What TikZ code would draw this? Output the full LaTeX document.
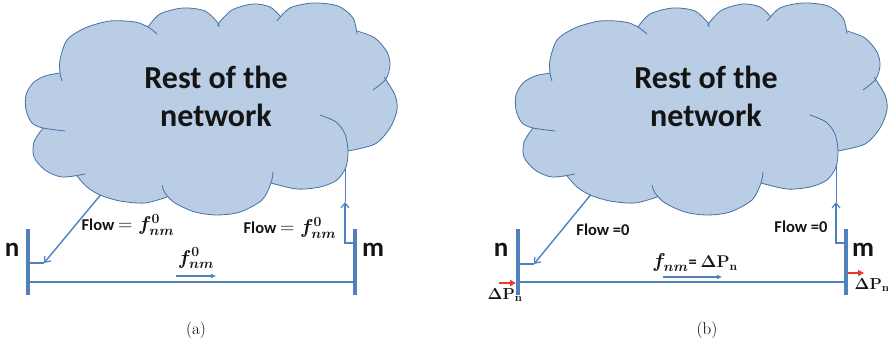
\documentclass[tikz,border=0pt]{standalone}
\usepackage{fix-cm}
\usepackage[no-math]{fontspec}
\usepackage{bm}
\newfontfamily\carl{Carlito}
\usetikzlibrary{arrows.meta}
\definecolor{cloudfill}{HTML}{B9CDE5}
\definecolor{cloudline}{HTML}{4470A6}
\definecolor{busblue}{HTML}{4F81BD}
\definecolor{redarrow}{HTML}{E53A2C}
\definecolor{txt}{HTML}{141414}
\newcommand\mathbig{\fontsize{20}{22}\selectfont}
\newcommand\mathmid{\fontsize{17}{20}\selectfont}
\begin{document}
\begin{tikzpicture}[x=1pt,y=-1pt,
  puff/.style={draw=cloudline, line width=0.8pt},
  busbar/.style={busblue, line width=4pt},
  busline/.style={busblue, line width=2.4pt},
  conn/.style={busblue, line width=1.4pt},
  thinconn/.style={busblue, line width=0.9pt},
  tipV/.style={-{Straight Barb[length=5pt,width=8pt,line width=1.2pt]}},
  flowarrow/.style={busblue, line width=1.5pt, -{Triangle[length=5pt,width=4pt]}},
  redarr/.style={redarrow, line width=1.6pt, -{Triangle[length=6pt,width=6pt]}},
  cloudtext/.style={font=\carl\bfseries\fontsize{32}{38}\selectfont, text=txt, inner sep=0pt, anchor=base},
  buslabel/.style={font=\carl\bfseries\fontsize{27}{30}\selectfont, text=txt, inner sep=0pt, anchor=base},
  flowlabel/.style={font=\carl\bfseries\fontsize{16.5}{20}\selectfont, text=txt, inner sep=0pt, anchor=base},
  dplabel/.style={font=\fontsize{16}{18}\selectfont, text=txt, inner sep=0pt, anchor=base},
  caption/.style={font=\fontsize{17}{20}\selectfont, inner sep=0pt, anchor=base}
]
\useasboundingbox (0,0) rectangle (888,347);

% ---------- coordinates, panel (a)
\coordinate (na-top) at (28,229);  \coordinate (na-bot) at (28,295);
\coordinate (ma-top) at (355,229); \coordinate (ma-bot) at (355,295);
\coordinate (na-line) at (28,282); \coordinate (ma-line) at (355,282);
\coordinate (na-stub) at (28,263); \coordinate (na-tip) at (44,263);
\coordinate (ca-n) at (103,192);
\coordinate (ma-stub) at (355,243); \coordinate (ma-corner) at (345,243);
\coordinate (ma-tip) at (345,202);  \coordinate (ca-m) at (345,156);
\coordinate (fa-s) at (176,276); \coordinate (fa-e) at (216,276);

% ---------- coordinates, panel (b)
\coordinate (nb-top) at (518,229);  \coordinate (nb-bot) at (518,295);
\coordinate (mb-top) at (846,229);  \coordinate (mb-bot) at (846,295);
\coordinate (nb-line) at (518,282); \coordinate (mb-line) at (846,282);
\coordinate (nb-stub) at (518,264); \coordinate (nb-tip) at (534,264);
\coordinate (cb-n) at (593,192);
\coordinate (mb-stub) at (846,243); \coordinate (mb-corner) at (836,243);
\coordinate (mb-tip) at (836,202);  \coordinate (cb-m) at (836,156);
\coordinate (fb-s) at (663,277); \coordinate (fb-e) at (722,277);
\coordinate (rn-s) at (499,283); \coordinate (rn-e) at (516,283);
\coordinate (rm-s) at (848,273); \coordinate (rm-e) at (864,273);

% ---------- connectors from the cloud (drawn first, the cloud covers their ends)
\draw[conn, tipV] (ca-n) -- (na-tip);
\draw[conn] (na-stub) -- (na-tip);
\draw[conn, tipV] (ma-stub) -- (ma-corner) -- (ma-tip);
\draw[thinconn] (ma-tip) -- (ca-m);

\draw[conn, tipV] (cb-n) -- (nb-tip);
\draw[conn] (nb-stub) -- (nb-tip);
\draw[conn, tipV] (mb-stub) -- (mb-corner) -- (mb-tip);
\draw[thinconn] (mb-tip) -- (cb-m);

% ---------- clouds
\foreach \dx in {0,490}{
\begin{scope}[xshift=\dx pt]
\fill[cloudfill]
  plot[smooth] coordinates {(60,73) (60,60) (67,40) (85,28) (110,21) (135,22) (148,27)}
  -- plot[smooth] coordinates {(148,27) (160,14) (183,8) (205,11) (218,23)}
  -- plot[smooth] coordinates {(218,23) (232,10) (253,4) (270,7) (281,17)}
  -- plot[smooth] coordinates {(280,17) (290,8) (313,3) (338,6) (353,18) (357,32)}
  -- plot[smooth] coordinates {(357,32) (375,38) (387,52) (390,65) (386,79)}
  -- plot[smooth] coordinates {(386,79) (395,95) (397,110) (390,128) (375,144) (348,151)}
  -- plot[smooth] coordinates {(348,151) (346,167) (337,180) (320,187) (297,189) (271,183)}
  -- plot[smooth] coordinates {(271,183) (262,200) (240,212) (217,215) (195,212) (175,203) (167,197)}
  -- plot[smooth] coordinates {(167,197) (145,203) (120,201) (100,195) (87,187) (77,176)}
  -- plot[smooth] coordinates {(77,176) (62,177) (45,170) (34,157) (34,142) (43,128)}
  -- plot[smooth] coordinates {(43,128) (32,123) (26,110) (26,95) (33,83) (45,76) (60,73)}
  -- cycle;
\draw[puff] plot[smooth] coordinates {(62,81) (60,73) (60,60) (67,40) (85,28) (110,21) (135,22) (148,27) (157,34)};
\draw[puff] plot[smooth] coordinates {(148,27) (160,14) (183,8) (205,11) (218,23) (219,27)};
\draw[puff] plot[smooth] coordinates {(218,26) (219,23) (232,10) (253,4) (270,7) (281,17)};
\draw[puff] plot[smooth] coordinates {(277,21) (290,8) (313,3) (338,6) (353,18) (357,34)};
\draw[puff] plot[smooth] coordinates {(357,31) (375,38) (387,52) (390,65) (386,79) (373,90)};
\draw[puff] plot[smooth] coordinates {(384,77) (395,95) (397,110) (390,128) (375,144) (348,151)};
\draw[puff] plot[smooth] coordinates {(320,115) (336,122) (345,134) (348,151) (346,167) (337,180) (320,187) (297,189) (271,183)};
\draw[puff] plot[smooth] coordinates {(273,172) (271,183) (262,200) (240,212) (217,215) (195,212) (175,203) (165,193) (162,185)};
\draw[puff] plot[smooth] coordinates {(167,197) (145,203) (120,201) (100,195) (87,187) (77,176)};
\draw[puff] plot[smooth] coordinates {(43,128) (34,142) (34,157) (45,170) (62,177) (85,174)};
\draw[puff] plot[smooth] coordinates {(65,131) (43,128) (32,123) (26,110) (26,95) (33,83) (45,76) (60,73)};
\end{scope}
}

% ---------- buses and lines
\draw[busline] (na-line) -- (ma-line);
\draw[busbar] (na-top) -- (na-bot);
\draw[busbar] (ma-top) -- (ma-bot);
\draw[flowarrow] (fa-s) -- (fa-e);

\draw[busline] (nb-line) -- (mb-line);
\draw[busbar] (nb-top) -- (nb-bot);
\draw[busbar] (mb-top) -- (mb-bot);
\draw[flowarrow] (fb-s) -- (fb-e);
\draw[redarr] (rn-s) -- (rn-e);
\draw[redarr] (rm-s) -- (rm-e);

% ---------- texts, panel (a)
\node[cloudtext] (ta1) at (216,89) {Rest of the};
\node[cloudtext] (ta2) at (216,127) {network};
\node[buslabel] (lna) at (12,256) {n};
\node[buslabel] (lma) at (373,256) {m};
\node[flowlabel] (fla1) at (128,231) {Flow {\mathbig$=\bm{f^0_{nm}}$}};
\node[flowlabel] (fla2) at (290,234) {Flow {\mathbig$=\bm{f^0_{nm}}$}};
\node[flowlabel] (fa) at (196,264) {\mathbig$\bm{f^0_{nm}}$};
\node[caption] (capa) at (196,334) {(a)};

% ---------- texts, panel (b)
\node[cloudtext] (tb1) at (706,89) {Rest of the};
\node[cloudtext] (tb2) at (706,127) {network};
\node[buslabel] (lnb) at (501,256) {n};
\node[buslabel] (lmb) at (863,256) {m};
\node[flowlabel] (flb1) at (603,236) {Flow =0};
\node[flowlabel] (flb2) at (801,233) {Flow =0};
\node[flowlabel] (fb) at (695,268) {{\mathbig$\bm{f_{nm}}$}= {\mathmid$\mathbf{\Delta P_n}$}};
\node[dplabel] (dpn) at (505,299) {$\mathbf{\Delta P_n}$};
\node[dplabel] (dpm) at (872,289) {$\mathbf{\Delta P_n}$};
\node[caption] (capb) at (707,334) {(b)};
\end{tikzpicture}
\end{document}
